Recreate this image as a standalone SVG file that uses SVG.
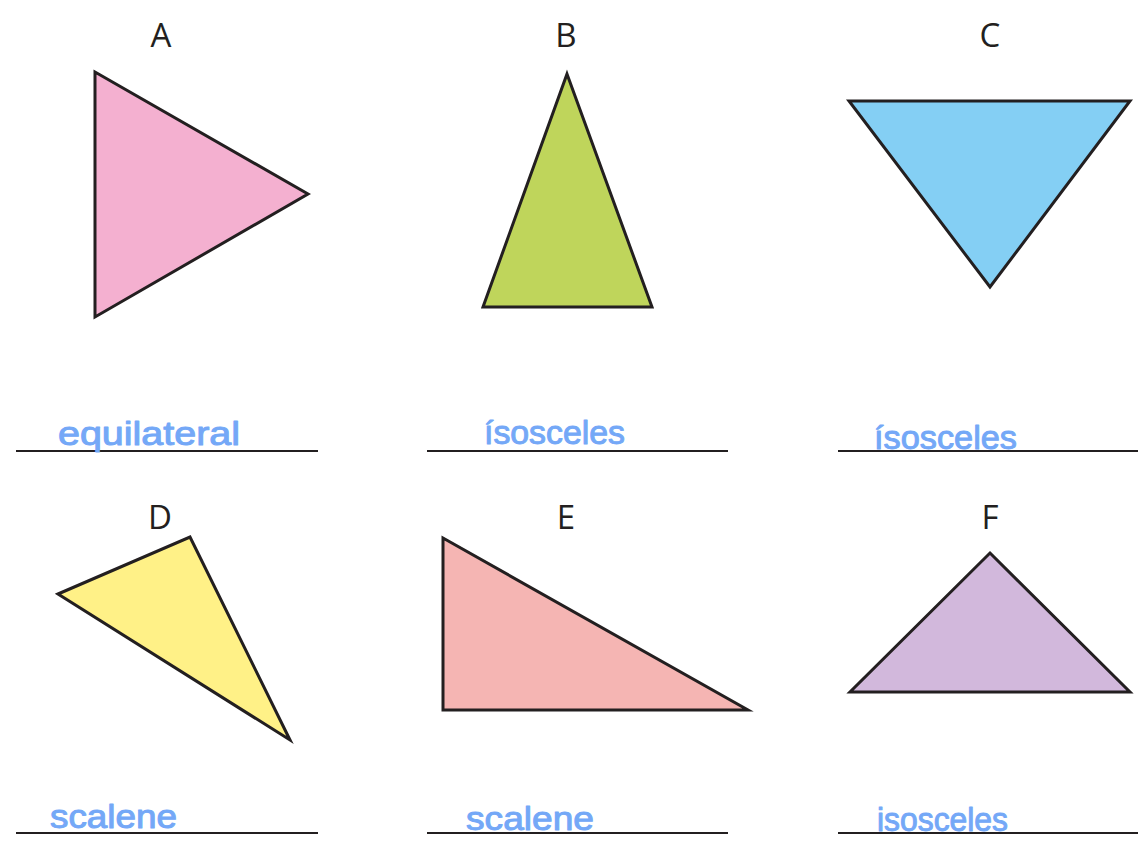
<svg xmlns="http://www.w3.org/2000/svg" width="1145" height="854" viewBox="0 0 1145 854">
<style>
.tri{stroke:#231f20;stroke-width:3;stroke-linejoin:miter}
.lbl{font-family:"Open Sans","Liberation Sans",sans-serif;font-size:33px;fill:#231f20;text-anchor:middle}
.hw{font-family:"Liberation Sans","DejaVu Sans",sans-serif;font-size:34px;fill:#74a8f7;stroke:#74a8f7;stroke-width:1;stroke-linejoin:round}
.ln{stroke:#231f20;stroke-width:2}
</style>
<rect width="1145" height="854" fill="#ffffff"/>
<g id="A">
<text class="lbl" x="161" y="47">A</text>
<polygon class="tri" points="95,72 308,194 95,317" fill="#f4b0d0"/>
<line class="ln" x1="16" y1="451" x2="318" y2="451"/>
<text class="hw" x="58" y="445" textLength="182" lengthAdjust="spacingAndGlyphs">equilateral</text>
</g>
<g id="B">
<text class="lbl" x="566" y="47">B</text>
<polygon class="tri" points="567,74 652,307 483,307" fill="#bfd55b"/>
<line class="ln" x1="427" y1="451" x2="728" y2="451"/>
<text class="hw" x="484" y="444" textLength="141" lengthAdjust="spacingAndGlyphs">ísosceles</text>
</g>
<g id="C">
<text class="lbl" x="990" y="47">C</text>
<polygon class="tri" points="849,101 1130,101 990,287" fill="#84cff4"/>
<line class="ln" x1="838" y1="451" x2="1138" y2="451"/>
<text class="hw" x="874" y="449" textLength="143" lengthAdjust="spacingAndGlyphs">ísosceles</text>
</g>
<g id="D">
<text class="lbl" x="160" y="529">D</text>
<polygon class="tri" points="58,594 190,537 290,740" fill="#fff187"/>
<line class="ln" x1="16" y1="833" x2="318" y2="833"/>
<text class="hw" x="50" y="828" textLength="127" lengthAdjust="spacingAndGlyphs">scalene</text>
</g>
<g id="E">
<text class="lbl" x="566" y="529">E</text>
<polygon class="tri" points="443,538 748,710 443,710" fill="#f5b5b3"/>
<line class="ln" x1="427" y1="833" x2="728" y2="833"/>
<text class="hw" x="466" y="830" textLength="128" lengthAdjust="spacingAndGlyphs">scalene</text>
</g>
<g id="F">
<text class="lbl" x="990" y="529">F</text>
<polygon class="tri" points="990,553 1130,692 850,692" fill="#d2b8dc"/>
<line class="ln" x1="838" y1="833" x2="1138" y2="833"/>
<text class="hw" x="877" y="831" textLength="131" lengthAdjust="spacingAndGlyphs">isosceles</text>
</g>
<g id="connectors"/>
</svg>
